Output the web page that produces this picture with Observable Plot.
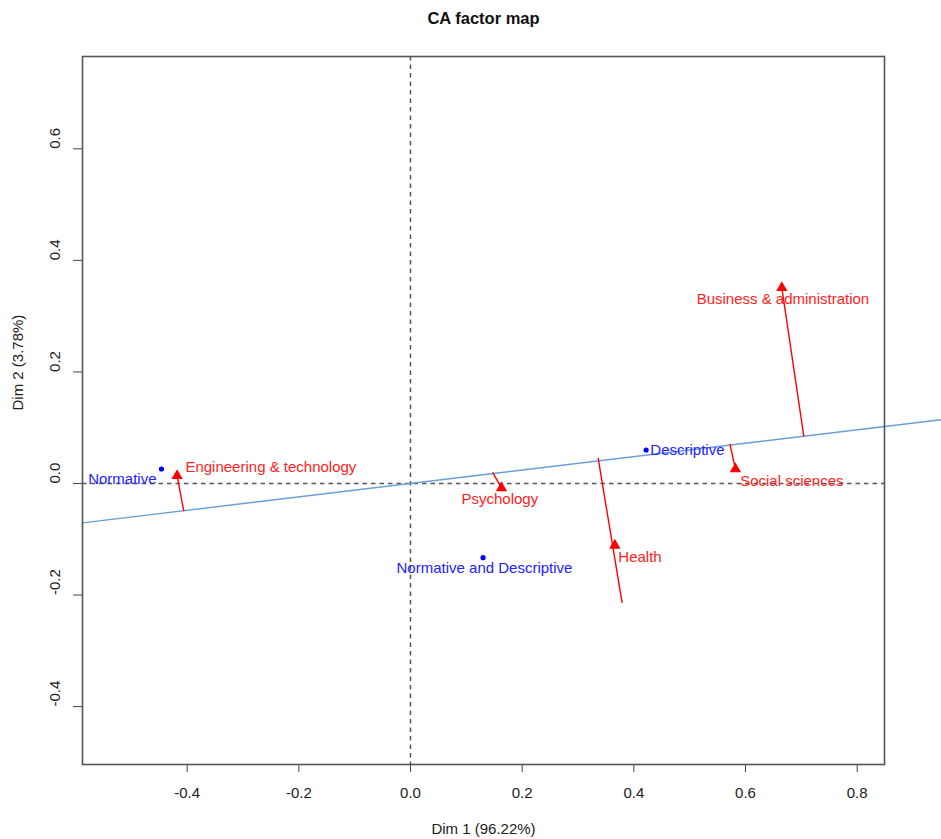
<!DOCTYPE html>
<html>
<head>
<meta charset="utf-8">
<script src="https://cdn.jsdelivr.net/npm/d3@7"></script>
<script src="https://cdn.jsdelivr.net/npm/@observablehq/plot@0.6"></script>
<style>
  html, body { margin: 0; padding: 0; background: #fff; }
</style>
</head>
<body>
<div id="chart"></div>
<script>
// Row points (blue)
const rowNames = ["Normative", "Descriptive", "Normative and Descriptive"];
const rowX = [-0.446, 0.422, 0.130];
const rowY = [0.026, 0.060, -0.133];
const rowLabelX = [-0.516, 0.496, 0.1325];
const rowLabelY = [0.007, 0.059, -0.151];

// Column points (red)
const colNames = ["Engineering & technology", "Psychology", "Health", "Social sciences", "Business & administration"];
const colX = [-0.418, 0.163, 0.366, 0.582, 0.665];
const colY = [0.014, -0.008, -0.111, 0.026, 0.351];
const colLabelX = [-0.250, 0.160, 0.411, 0.683, 0.667];
const colLabelY = [0.030, -0.029, -0.1315, 0.005, 0.330];

// Projection segments (from blue line to points)
const segX1 = [-0.406, 0.147, 0.336, 0.572, 0.7045];
const segY1 = [-0.0495, 0.020, 0.046, 0.071, 0.084];
const segX2 = [-0.418, 0.163, 0.379, 0.582, 0.665];
const segY2 = [0.014, -0.008, -0.214, 0.026, 0.351];

// Fitted blue line
const lineX = [-0.5874, 0.96];
const lineY = [-0.0706, 0.1154];

// Axes
const xTicks = [-0.4, -0.2, 0.0, 0.2, 0.4, 0.6, 0.8];
const yTicks = [-0.4, -0.2, 0.0, 0.2, 0.4, 0.6];
const xDomain = [-0.5874, 0.8489];
const yDomain = [-0.5038, 0.7655];
const title = "CA factor map";
const xLabel = "Dim 1 (96.22%)";
const yLabel = "Dim 2 (3.78%)";

const rows = rowNames.map((n, i) => ({name: n, x: rowX[i], y: rowY[i], lx: rowLabelX[i], ly: rowLabelY[i]}));
const cols = colNames.map((n, i) => ({name: n, x: colX[i], y: colY[i], lx: colLabelX[i], ly: colLabelY[i],
  x1: segX1[i], y1: segY1[i], x2: segX2[i], y2: segY2[i]}));
const line = lineX.map((x, i) => ({x, y: lineY[i]}));
const fmt = d => d.toFixed(1);

const chart = Plot.plot({
  width: 941,
  height: 839,
  marginLeft: 82,
  marginRight: 57,
  marginTop: 56,
  marginBottom: 75,
  style: {fontFamily: "'Liberation Sans', Arial, sans-serif", fontSize: "15px", color: "#444", background: "#fff"},
  x: {domain: xDomain, ticks: xTicks, tickSize: 8, tickFormat: () => "", label: null},
  y: {domain: yDomain, ticks: yTicks, tickSize: 9, tickFormat: () => "", label: null},
  marks: [
    Plot.ruleX([0], {stroke: "#555", strokeWidth: 1.5, strokeDasharray: "4.5,4"}),
    Plot.ruleY([0], {stroke: "#555", strokeWidth: 1.5, strokeDasharray: "4.5,4"}),
    Plot.line(line, {x: "x", y: "y", stroke: "#6a9fd4", strokeWidth: 1.4}),
    Plot.link(cols, {x1: "x1", y1: "y1", x2: "x2", y2: "y2", stroke: "#ff0000", strokeWidth: 1.4}),
    Plot.dot(rows, {x: "x", y: "y", r: 2.6, fill: "#0000ff"}),
    Plot.dot(cols, {x: "x", y: "y", r: 4.2, symbol: "triangle", fill: "#ff0000"}),
    Plot.text(rows, {x: "lx", y: "ly", text: "name", fill: "#2222ff", fontSize: 15}),
    Plot.text(cols, {x: "lx", y: "ly", text: "name", fill: "#ff2222", fontSize: 15}),
    Plot.frame({stroke: "#555", strokeWidth: 1.6}),
    Plot.text(xTicks, {x: d => d, frameAnchor: "bottom", lineAnchor: "middle", dy: 29, text: fmt, fill: "#222", fontSize: 15}),
    Plot.text(yTicks, {y: d => d, frameAnchor: "left", lineAnchor: "middle", dx: -27, rotate: -90, text: fmt, fill: "#222", fontSize: 15}),
    Plot.text([title], {frameAnchor: "top", lineAnchor: "middle", dy: -38, text: d => d, fontWeight: "bold", fontSize: 16.5, fill: "#111"}),
    Plot.text([xLabel], {frameAnchor: "bottom", lineAnchor: "middle", dy: 65, text: d => d, fill: "#222", fontSize: 15}),
    Plot.text([yLabel], {frameAnchor: "left", lineAnchor: "middle", dx: -64, rotate: -90, text: d => d, fill: "#222", fontSize: 15})
  ]
});
document.getElementById("chart").appendChild(chart);
</script>
</body>
</html>
